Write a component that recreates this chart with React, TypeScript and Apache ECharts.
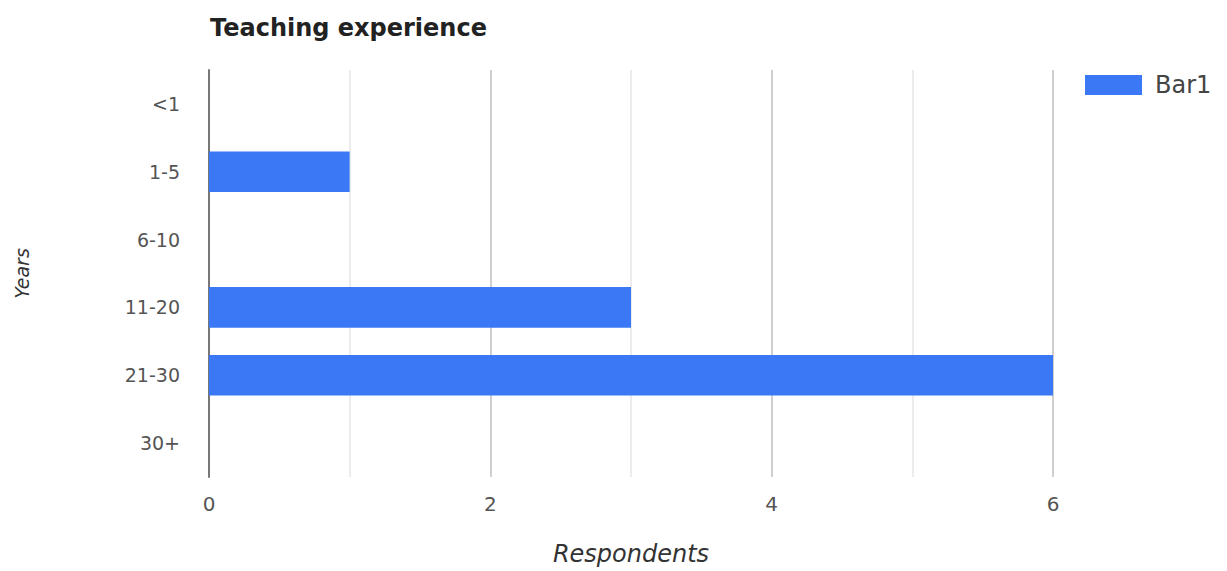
import React, { useEffect, useRef } from "react";
import * as echarts from "echarts";

const categories = ["<1", "1-5", "6-10", "11-20", "21-30", "30+"];
const bar1Values = [0, 1, 0, 3, 6, 0];
const seriesName = "Bar1";
const chartTitle = "Teaching experience";
const xAxisName = "Respondents";
const yAxisName = "Years";

const FONT = "DejaVu Sans";

export default function App() {
  const ref = useRef<HTMLDivElement>(null);
  useEffect(() => {
    if (!ref.current) return;
    const chart = echarts.init(ref.current, undefined, { renderer: "svg" });
    chart.setOption({
      animation: false,
      backgroundColor: "#ffffff",
      textStyle: { fontFamily: FONT },
      title: {
        text: chartTitle,
        left: 210,
        top: 16,
        padding: 0,
        textStyle: { fontFamily: FONT, fontWeight: "bold", fontSize: 24, color: "#222" },
      },
      legend: {
        left: 1085,
        top: 73,
        padding: 0,
        itemWidth: 57,
        itemHeight: 20,
        icon: "rect",
        data: [seriesName],
        textStyle: { fontFamily: FONT, fontSize: 24, color: "#444", padding: [0, 0, 0, 8] },
      },
      grid: { left: 209, right: 174, top: 70, bottom: 94, containLabel: false },
      xAxis: {
        type: "value",
        min: 0,
        max: 6,
        interval: 2,
        name: xAxisName,
        nameLocation: "middle",
        nameGap: 65,
        nameTextStyle: { fontFamily: FONT, fontStyle: "italic", fontSize: 24, color: "#333" },
        axisLine: { show: false },
        axisTick: { show: false },
        axisLabel: {
          show: true,
          margin: 17,
          fontFamily: FONT,
          fontSize: 20,
          color: "#555",
        },
        splitLine: { show: true, lineStyle: { color: "#cfcfcf", width: 2 } },
        minorTick: { show: false, splitNumber: 2 },
        minorSplitLine: { show: true, lineStyle: { color: "#ececec", width: 2 } },
      },
      yAxis: {
        type: "category",
        data: categories,
        inverse: true,
        name: yAxisName,
        nameLocation: "middle",
        nameGap: 178,
        nameTextStyle: { fontFamily: FONT, fontStyle: "italic", fontSize: 19, color: "#333" },
        axisLine: { show: true, lineStyle: { color: "#777", width: 2 } },
        axisTick: { show: false },
        axisLabel: {
          show: true,
          margin: 29,
          fontFamily: FONT,
          fontSize: 19,
          color: "#555",
        },
        splitLine: { show: false },
      },
      series: [
        {
          name: seriesName,
          type: "bar",
          data: bar1Values,
          barWidth: "60%",
          itemStyle: { color: "#3b78f5" },
        },
      ],
    });
    return () => chart.dispose();
  }, []);
  return (
    <div
      ref={ref}
      style={{ position: "fixed", left: 0, top: 0, width: 1227, height: 571, background: "#fff" }}
    />
  );
}
